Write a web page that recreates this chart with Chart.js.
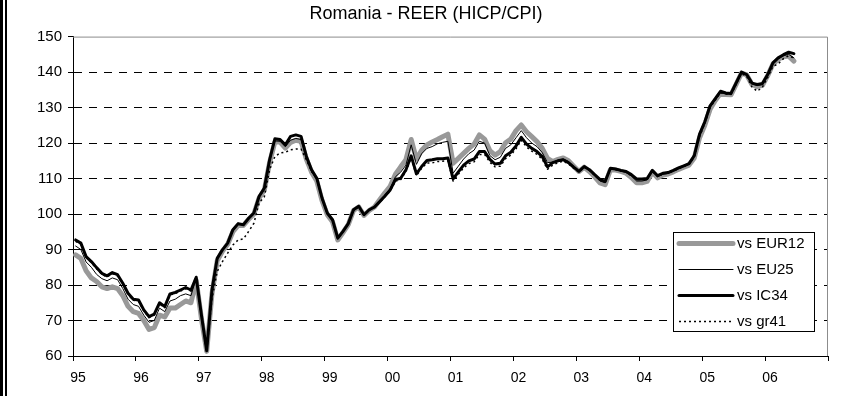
<!DOCTYPE html>
<html>
<head>
<meta charset="utf-8">
<title>Romania - REER (HICP/CPI)</title>
<script src="https://cdn.jsdelivr.net/npm/chart.js@4/dist/chart.umd.min.js"></script>
<style>
  html, body { margin: 0; padding: 0; background: #fff; }
  #wrap { width: 842px; height: 396px; position: relative; }
</style>
</head>
<body>
<div id="wrap"><canvas id="reerChart"></canvas></div>
<script>
// monthly REER indices, Jan 1995 .. Jun 2006
var firstYear = 1995;
var yearTicks = ['95', '96', '97', '98', '99', '00', '01', '02', '03', '04', '05', '06'];

var eur12 = [
  88.5, 87.5, 84.0, 82.0, 81.0, 79.5, 79.0, 79.5, 79.0, 77.0, 74.0, 72.5,
  72.0, 70.0, 67.5, 68.0, 71.5, 71.0, 73.5, 73.5, 74.5, 75.5, 75.0, 81.3,
  70.5, 61.3, 77.5, 86.8, 89.5, 91.5, 95.0, 96.8, 96.8, 98.5, 100.0, 104.5,
  106.8, 114.5, 120.3, 120.3, 118.6, 120.2, 120.8, 120.5, 115.5, 111.8, 109.3, 103.8,
  99.8, 97.8, 92.7, 94.8, 97.0, 101.0, 102.0, 99.6, 101.0, 102.0, 104.0, 106.0,
  107.8, 111.2, 113.3, 115.3, 121.0, 115.5, 118.0, 119.5, 120.3, 121.0, 121.8, 122.5,
  114.3, 115.7, 117.1, 118.5, 119.7, 122.3, 121.1, 117.9, 116.6, 117.6, 120.1, 121.1,
  123.5, 125.1, 123.2, 121.8, 120.4, 118.5, 115.7, 114.8, 115.4, 115.8, 115.0, 113.5,
  112.0, 113.2, 112.0, 110.5, 108.8, 108.3, 112.5, 112.4, 112.0, 111.5, 110.3, 108.8,
  108.8, 109.2, 111.8, 110.2, 111.0, 111.3, 111.9, 112.6, 113.2, 113.8, 115.8, 121.5,
  125.0, 129.5, 132.0, 134.0, 133.7, 133.6, 136.6, 139.7, 139.2, 136.5, 135.9, 136.3,
  139.0, 142.3, 143.6, 144.3, 144.5, 143.1
];

var eu25 = [
  91.0, 90.0, 86.5, 85.0, 83.0, 81.8, 81.2, 82.0, 81.5, 79.0, 76.0, 74.5,
  74.0, 71.5, 69.5, 70.0, 73.5, 72.5, 75.5, 76.0, 77.0, 77.5, 77.0, 82.0,
  71.0, 61.5, 78.0, 87.2, 89.7, 91.6, 95.3, 97.0, 96.9, 98.6, 100.1, 104.7,
  107.0, 114.8, 120.6, 120.5, 119.0, 120.8, 121.3, 121.0, 115.8, 112.0, 109.6, 104.0,
  100.0, 98.0, 92.9, 94.9, 97.1, 101.0, 102.0, 99.7, 101.0, 101.9, 103.6, 105.4,
  107.2, 110.5, 111.8, 113.8, 119.5, 114.0, 117.0, 118.5, 119.0, 119.8, 120.2, 120.5,
  111.5, 113.5, 115.5, 117.0, 118.0, 120.5, 120.0, 116.5, 115.3, 116.0, 118.5, 119.5,
  121.5, 123.5, 121.5, 120.0, 119.0, 117.3, 114.5, 114.6, 115.2, 115.5, 114.8, 113.4,
  112.0, 113.3, 112.3, 110.8, 109.3, 108.8, 112.7, 112.5, 112.1, 111.7, 110.7, 109.3,
  109.3, 109.6, 112.0, 110.5, 111.2, 111.5, 112.1, 112.8, 113.4, 114.0, 116.2, 122.0,
  125.5, 130.0, 132.2, 134.3, 133.9, 133.8, 136.8, 139.8, 139.2, 136.7, 136.2, 136.5,
  139.2, 142.5, 143.8, 144.6, 145.0, 144.0
];

var ic34 = [
  92.7, 91.8, 88.0, 86.6, 84.9, 83.3, 82.6, 83.5, 82.9, 80.5, 77.7, 76.0,
  75.8, 73.0, 71.1, 71.8, 75.0, 73.9, 77.5, 77.9, 78.6, 79.3, 78.6, 82.2,
  71.5, 61.5, 78.5, 87.5, 89.9, 91.8, 95.6, 97.3, 97.0, 98.8, 100.3, 105.0,
  107.3, 115.3, 121.2, 121.0, 119.5, 121.9, 122.3, 121.9, 116.3, 112.5, 110.1, 104.5,
  100.3, 98.4, 93.2, 95.1, 97.3, 101.2, 102.2, 99.8, 101.2, 102.0, 103.5, 105.1,
  106.8, 109.7, 110.1, 112.5, 116.4, 111.3, 113.4, 115.1, 115.3, 115.6, 115.6, 115.8,
  109.9, 111.9, 113.8, 115.0, 115.5, 117.6, 117.6, 115.4, 114.1, 114.3, 116.4, 117.4,
  119.2, 121.6, 119.7, 118.5, 117.6, 116.2, 113.3, 114.5, 115.0, 115.3, 114.5, 113.2,
  112.0, 113.4, 112.5, 111.1, 109.8, 109.2, 112.9, 112.7, 112.3, 112.0, 111.1, 109.9,
  109.9, 110.0, 112.3, 110.8, 111.5, 111.7, 112.3, 113.0, 113.6, 114.2, 116.5, 122.5,
  126.0, 130.5, 132.5, 134.6, 134.1, 134.0, 137.0, 140.0, 139.3, 136.9, 136.5, 136.8,
  139.3, 142.6, 144.0, 144.9, 145.6, 145.2
];

var gr41 = [
  92.3, 91.5, 87.8, 86.3, 84.6, 83.0, 82.3, 83.2, 82.6, 80.2, 77.4, 75.7,
  75.5, 72.7, 70.8, 71.5, 74.7, 73.6, 77.2, 77.6, 78.3, 79.0, 78.3, 81.8,
  71.0, 61.3, 76.0, 83.8, 86.6, 89.0, 91.3, 92.7, 93.0, 95.1, 97.4, 103.1,
  104.9, 112.5, 116.2, 117.2, 117.4, 118.1, 118.3, 118.3, 115.3, 112.0, 110.1, 104.2,
  100.1, 98.2, 93.0, 95.0, 97.2, 101.1, 102.1, 99.7, 101.1, 101.9, 103.3, 104.9,
  106.5, 109.3, 109.7, 112.0, 115.8, 110.8, 112.9, 114.4, 114.4, 114.8, 114.9, 115.0,
  109.3, 111.2, 113.0, 114.2, 114.7, 116.8, 116.8, 114.6, 113.3, 113.5, 115.6, 116.6,
  118.4, 120.8, 118.9, 117.7, 116.8, 115.4, 112.6, 113.8, 114.5, 114.9, 114.1, 112.9,
  111.8, 113.2, 112.3, 110.9, 109.6, 109.0, 112.7, 112.5, 112.1, 111.8, 110.9, 109.7,
  109.7, 109.8, 112.1, 110.6, 111.3, 111.5, 112.1, 112.8, 113.4, 114.0, 116.0, 121.8,
  125.5, 130.0, 132.1, 134.2, 133.8, 133.7, 136.6, 139.6, 138.8, 135.8, 134.6, 135.8,
  138.5, 141.6, 142.3, 143.8, 144.6, 144.0
];

var fontFamily = '"Liberation Sans", Arial, sans-serif';
Chart.defaults.font.family = fontFamily;
Chart.defaults.color = '#000';

// each month sits in the middle of its slot on the year axis
function toPoints(values) {
  var points = [];
  for (var i = 0; i < values.length; i++) {
    points.push({ x: firstYear + (i + 0.5) / 12, y: values[i] });
  }
  return points;
}

// gray plot frame, the double rule on the left edge and the boxed legend
var decorPlugin = {
  id: 'decor',
  afterDraw: function (chart) {
    var ctx = chart.ctx;
    var area = chart.chartArea;
    ctx.save();

    ctx.strokeStyle = '#8c8c8c';
    ctx.lineWidth = 1;
    ctx.beginPath();
    ctx.moveTo(area.left, area.top + 0.5);
    ctx.lineTo(area.right - 0.5, area.top + 0.5);
    ctx.lineTo(area.right - 0.5, area.bottom);
    ctx.stroke();

    ctx.fillStyle = '#000';
    ctx.fillRect(0, 0, 3, chart.height);
    ctx.fillRect(5, 0, 2, chart.height);

    var box = { left: 673.5, top: 232.5, width: 141, height: 99 };
    ctx.fillStyle = '#fff';
    ctx.fillRect(box.left, box.top, box.width, box.height);
    ctx.strokeStyle = '#000';
    ctx.lineWidth = 1;
    ctx.strokeRect(box.left, box.top, box.width, box.height);

    ctx.font = '15px ' + fontFamily;
    ctx.textBaseline = 'middle';
    chart.data.datasets.forEach(function (ds, i) {
      var y = 243.5 + i * 26;
      ctx.save();
      ctx.strokeStyle = ds.borderColor;
      ctx.lineWidth = ds.borderWidth;
      ctx.lineCap = ds.borderDash ? 'butt' : 'round';
      ctx.setLineDash(ds.borderDash || []);
      ctx.beginPath();
      ctx.moveTo(679, y);
      ctx.lineTo(733, y);
      ctx.stroke();
      ctx.restore();
      ctx.fillStyle = '#000';
      ctx.fillText(ds.label, 737, y);
    });

    ctx.restore();
  }
};

function lineSet(label, values, color, width, dash, order) {
  return {
    label: label,
    data: toPoints(values),
    borderColor: color,
    borderWidth: width,
    borderDash: dash,
    borderJoinStyle: 'round',
    borderCapStyle: dash ? 'butt' : 'round',
    pointRadius: 0,
    tension: 0,
    fill: false,
    order: order
  };
}

function createConfig() {
  return {
    type: 'line',
    data: {
      datasets: [
        lineSet('vs EUR12', eur12, '#999999', 5, undefined, 4),
        lineSet('vs EU25', eu25, '#000000', 1, undefined, 3),
        lineSet('vs IC34', ic34, '#000000', 3, undefined, 2),
        lineSet('vs gr41', gr41, '#000000', 1.5, [2, 3], 1)
      ]
    },
    options: {
      responsive: true,
      maintainAspectRatio: false,
      animation: false,
      layout: {
        padding: { left: 24, right: 14, top: 0, bottom: 0 }
      },
      plugins: {
        legend: { display: false },
        tooltip: { enabled: false },
        title: {
          display: true,
          text: 'Romania - REER (HICP/CPI)',
          color: '#000',
          font: { size: 18, weight: 'normal' },
          padding: { top: 3, bottom: 12 }
        }
      },
      scales: {
        x: {
          type: 'linear',
          min: firstYear,
          max: firstYear + yearTicks.length,
          afterFit: function (scale) { scale.height = 40; },
          grid: {
            drawOnChartArea: false,
            drawTicks: true,
            tickLength: 5,
            color: '#000'
          },
          border: { color: '#000', width: 1 },
          ticks: {
            stepSize: 1,
            autoSkip: false,
            maxRotation: 0,
            labelOffset: 5,
            padding: 9,
            color: '#000',
            font: { size: 14 },
            callback: function (value) {
              var idx = Math.round(value - firstYear);
              return yearTicks[idx] || '';
            }
          }
        },
        y: {
          min: 60,
          max: 150,
          afterFit: function (scale) { scale.width = 49; },
          grid: {
            color: function (context) {
              var v = context.tick ? context.tick.value : null;
              return (v === 60 || v === 150) ? 'rgba(0,0,0,0)' : '#000';
            },
            tickColor: '#000',
            tickLength: 5,
            lineWidth: 1
          },
          border: { color: '#000', width: 1, dash: [8, 7] },
          ticks: {
            stepSize: 10,
            padding: 6,
            color: '#000',
            font: { size: 15 }
          }
        }
      }
    },
    plugins: [decorPlugin]
  };
}

var reerctx = document.getElementById('reerChart').getContext('2d');
var reerChart = new Chart(reerctx, createConfig());
</script>
</body>
</html>
